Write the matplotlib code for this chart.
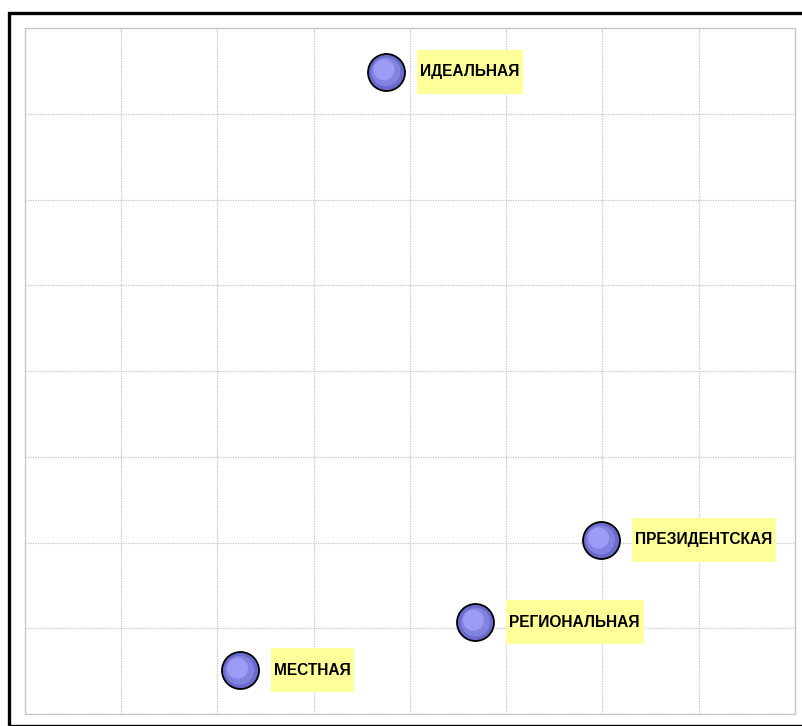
import matplotlib
matplotlib.use("Agg")
import matplotlib.pyplot as plt
from matplotlib.patches import Rectangle
import matplotlib.transforms as mtransforms

labels = ["ИДЕАЛЬНАЯ", "ПРЕЗИДЕНТСКАЯ", "РЕГИОНАЛЬНАЯ", "МЕСТНАЯ"]
x_vals = [3.75, 5.98, 4.68, 2.23]
y_vals = [7.49, 2.03, 1.07, 0.51]

W, H = 803, 726
fig = plt.figure(figsize=(W / 100, H / 100), dpi=100)
fig.patch.set_facecolor("white")

# outer frame
fig.add_artist(Rectangle((8.5 / W, 0), 1, 1 - 12.5 / H, transform=fig.transFigure,
                         fill=False, edgecolor="black", linewidth=2.4, clip_on=False))

left, top, right, bottom = 25, 28, 795, 714
ax = fig.add_axes([left / W, 1 - bottom / H, (right - left) / W, (bottom - top) / H])
ax.set_xlim(0, 8)
ax.set_ylim(0, 8)
ax.set_xticks(range(0, 9))
ax.set_yticks(range(0, 9))
ax.tick_params(length=0, labelbottom=False, labelleft=False)
ax.grid(True, color="#c4c4c4", linestyle=(0, (1, 1)), linewidth=0.9)
for s in ax.spines.values():
    s.set_color("#c4c4c4")
    s.set_linestyle((0, (1, 1)))
    s.set_linewidth(0.9)

k = 0.5184
ax.scatter(x_vals, y_vals, s=37 ** 2 * k, color="#6a6acc", edgecolor="black",
           linewidth=1.3, zorder=3)
ax.scatter(x_vals, y_vals, s=29 ** 2 * k, color="#8282e0", edgecolor="none", zorder=4)
off = mtransforms.offset_copy(ax.transData, fig=fig, x=-2, y=2, units="dots")
ax.scatter(x_vals, y_vals, s=21 ** 2 * k, color="#9c9cf6", edgecolor="none", zorder=5,
           transform=off)

fam = ["Liberation Sans Narrow", "Liberation Sans", "DejaVu Sans"]
texts = []
for lab, xv, yv in zip(labels, x_vals, y_vals):
    t = ax.annotate(lab, (xv, yv), xytext=(34, 0), textcoords="offset pixels",
                    ha="left", va="center", fontsize=11.2, fontweight="bold",
                    family=fam, color="black", zorder=8)
    texts.append(t)

fig.canvas.draw()
r = fig.canvas.get_renderer()
for t in texts:
    bb = t.get_window_extent(r)
    cy = (bb.y0 + bb.y1) / 2
    x0 = bb.x0 - 3
    x1 = bb.x1 + 4
    h = 44
    ax.add_patch(Rectangle((x0, cy - h / 2), x1 - x0, h,
                           transform=mtransforms.IdentityTransform(), facecolor="#ffff99",
                           edgecolor="none", zorder=7, clip_on=False))

fig.savefig("out.png", dpi=100)
